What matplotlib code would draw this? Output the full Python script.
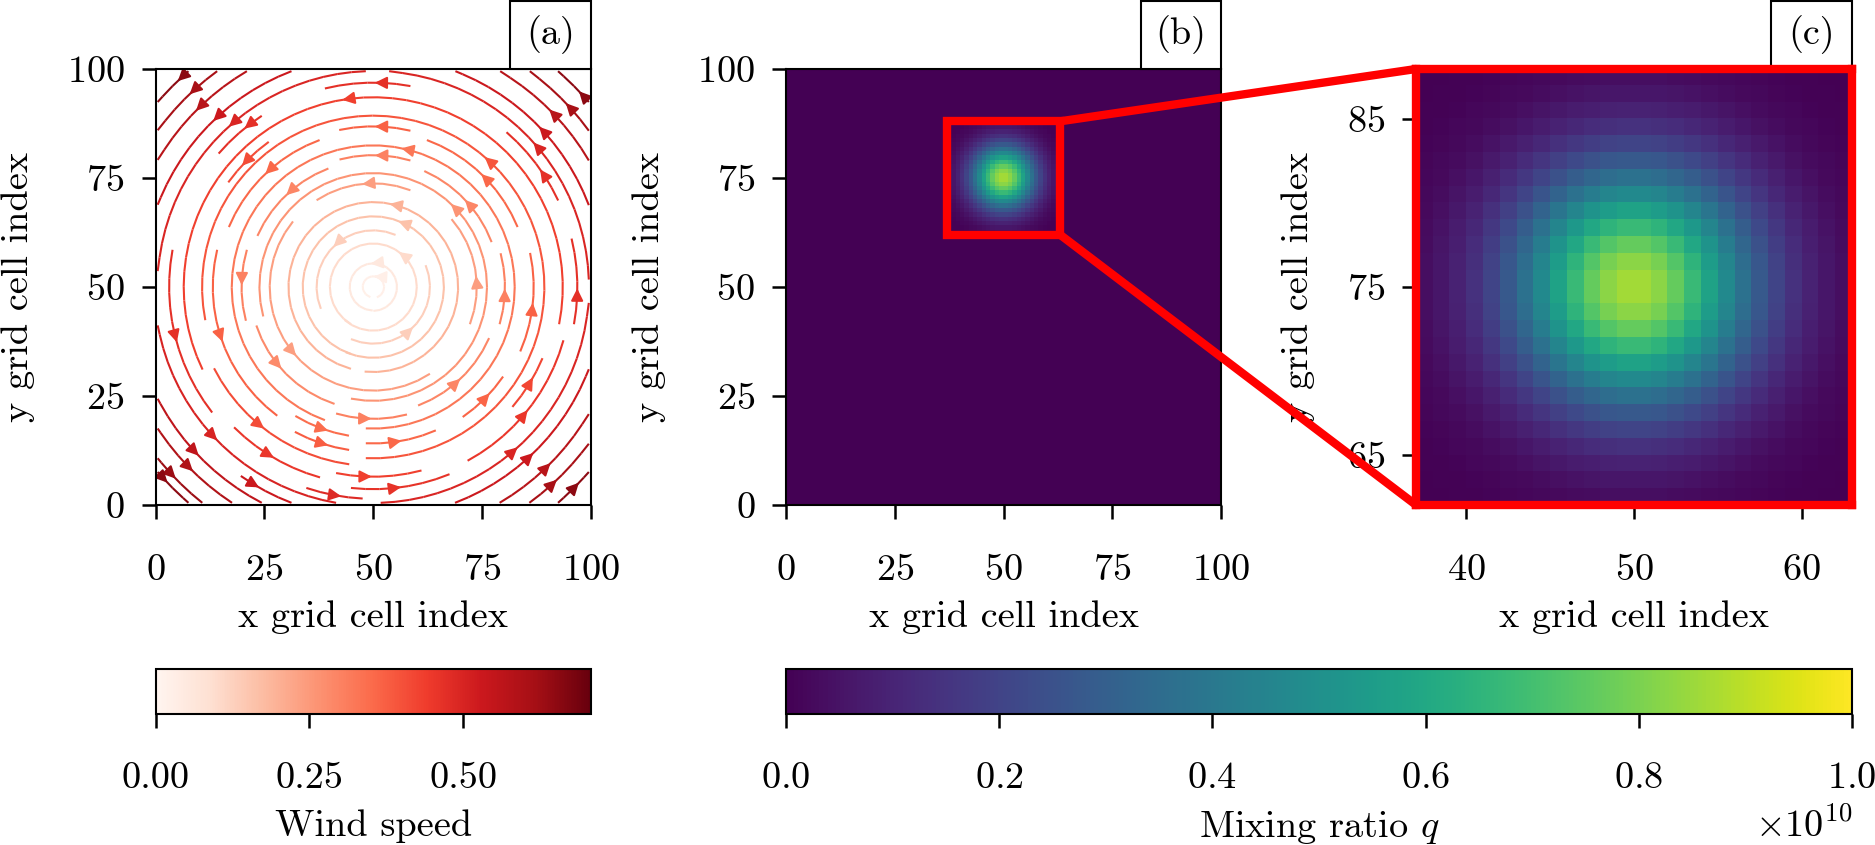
import matplotlib
matplotlib.use("Agg")
import matplotlib.pyplot as plt
from matplotlib.cm import ScalarMappable
from matplotlib.colors import Normalize
from matplotlib.patches import ConnectionPatch, Rectangle
from matplotlib.ticker import ScalarFormatter
import numpy as np

plt.rcParams['font.family'] = ['cmr10', 'DejaVu Sans']
plt.rcParams['mathtext.fontset'] = 'cm'
plt.rcParams['axes.formatter.use_mathtext'] = True
plt.rcParams['axes.unicode_minus'] = False
plt.rcParams['font.size'] = 9.2
plt.rcParams['axes.linewidth'] = 0.5

W, H = 1875, 845

# wind speed against distance from the vortex centre
radius_read = [0, 25, 50, 70.7]
speed_read = [0.0, 0.25, 0.50, 0.707]
speed_max = 0.707

# q in units of 1e8, lower left quarter of panel (c), cells x=37..49, y=62..74
q_quarter = [
    [0.2, 0.3, 0.4, 0.6, 0.9, 1.2, 1.6, 2.1, 2.6, 3.0, 3.4, 3.7, 3.8],
    [0.3, 0.4, 0.7, 1.0, 1.5, 2.0, 2.7, 3.4, 4.1, 4.8, 5.5, 5.9, 6.2],
    [0.4, 0.7, 1.1, 1.6, 2.3, 3.1, 4.1, 5.2, 6.4, 7.5, 8.4, 9.2, 9.5],
    [0.6, 1.0, 1.6, 2.3, 3.4, 4.6, 6.1, 7.8, 9.5, 11.2, 12.6, 13.6, 14.2],
    [0.9, 1.5, 2.3, 3.4, 4.9, 6.7, 8.8, 11.2, 13.7, 16.1, 18.1, 19.6, 20.4],
    [1.2, 2.0, 3.1, 4.6, 6.7, 9.2, 12.2, 15.4, 18.9, 22.1, 24.9, 27.0, 28.1],
    [1.6, 2.7, 4.1, 6.1, 8.8, 12.2, 16.1, 20.4, 24.9, 29.3, 33.0, 35.8, 37.2],
    [2.1, 3.4, 5.2, 7.8, 11.2, 15.4, 20.4, 25.9, 31.7, 37.2, 41.9, 45.4, 47.3],
    [2.6, 4.1, 6.4, 9.5, 13.7, 18.9, 24.9, 31.7, 38.7, 45.4, 51.2, 55.4, 57.7],
    [3.0, 4.8, 7.5, 11.2, 16.1, 22.1, 29.3, 37.2, 45.4, 53.3, 60.1, 65.1, 67.8],
    [3.4, 5.5, 8.4, 12.6, 18.1, 24.9, 33.0, 41.9, 51.2, 60.1, 67.7, 73.3, 76.3],
    [3.7, 5.9, 9.2, 13.6, 19.6, 27.0, 35.8, 45.4, 55.4, 65.1, 73.3, 79.5, 82.8],
    [3.8, 6.2, 9.5, 14.2, 20.4, 28.1, 37.2, 47.3, 57.7, 67.8, 76.3, 82.8, 86.1],
]
q_max = 1e10

ticks_big = [0, 25, 50, 75, 100]
ticks_zoom_x = [40, 50, 60]
ticks_zoom_y = [65, 75, 85]
ticks_speed = [0.0, 0.25, 0.50]
ticks_q = [0, 0.2e10, 0.4e10, 0.6e10, 0.8e10, 1.0e10]
zoom_x = (37, 63)
zoom_y = (62, 88)


def px_axes(left, right, top, bottom):
    return fig.add_axes([left / W, 1 - bottom / H, (right - left) / W, (bottom - top) / H])


def panel_tag(ax, label):
    ax.add_patch(Rectangle((0.815, 1.0), 0.185, 0.155, transform=ax.transAxes, fc='w',
                           ec='k', lw=0.5, clip_on=False, zorder=6))
    ax.text(0.907, 1.078, label, transform=ax.transAxes, ha='center', va='center', zorder=7)


fig = plt.figure(figsize=(W / 300, H / 300), dpi=300)
ax_a = px_axes(155.5, 591, 69, 505)
ax_b = px_axes(786, 1221, 69, 505)
ax_c = px_axes(1416, 1852, 69, 505)
cax_a = px_axes(155.5, 591, 669, 714)
cax_b = px_axes(786, 1852, 669, 714)

# full grid from the quarter that was read
quarter = np.array(q_quarter) * 1e8
lower = np.hstack([quarter, quarter[:, ::-1]])
block = np.vstack([lower, lower[::-1]])
q = np.zeros((100, 100))
q[zoom_y[0]:zoom_y[1], zoom_x[0]:zoom_x[1]] = block

# panel a, wind on the cell centres
x = np.arange(100) + 0.5
y = np.arange(100) + 0.5
xx, yy = np.meshgrid(x, y)
dist = np.hypot(xx - 50, yy - 50)
speed = np.interp(dist, radius_read, speed_read)
u = -(yy - 50) / dist * speed
v = (xx - 50) / dist * speed
ax_a.streamplot(x, y, u, v, color=speed, cmap='Reds', norm=Normalize(0, speed_max),
                density=1, linewidth=0.5, arrowsize=0.6)
ax_a.set_xlim(0, 100)
ax_a.set_ylim(0, 100)

# panels b and c
for ax in (ax_b, ax_c):
    ax.imshow(q, origin='lower', extent=(0, 100, 0, 100), cmap='viridis', vmin=0, vmax=q_max,
              interpolation='nearest', aspect='auto')

for ax in (ax_a, ax_b):
    ax.set_xticks(ticks_big)
    ax.set_yticks(ticks_big)

ax_c.set_xlim(*zoom_x)
ax_c.set_ylim(*zoom_y)
ax_c.set_xticks(ticks_zoom_x)
ax_c.set_yticks(ticks_zoom_y)
for spine in ax_c.spines.values():
    spine.set_edgecolor('r')
    spine.set_linewidth(2)
    spine.set_zorder(6)

for ax, label in zip((ax_a, ax_b, ax_c), ('(a)', '(b)', '(c)')):
    ax.tick_params(length=3.4, width=0.6)
    ax.tick_params(axis='x', pad=8.4)
    ax.tick_params(axis='y', pad=4)
    ax.set_xlabel('x grid cell index', labelpad=3.2)
    ax.set_ylabel('y grid cell index', labelpad=7.6)
    panel_tag(ax, label)

ax_b.add_patch(Rectangle((zoom_x[0], zoom_y[0]), zoom_x[1] - zoom_x[0], zoom_y[1] - zoom_y[0],
                         fc='none', ec='r', lw=2, zorder=5))
for y_edge in zoom_y:
    fig.add_artist(ConnectionPatch(xyA=(zoom_x[1], y_edge), coordsA=ax_b.transData,
                                   xyB=(zoom_x[0], y_edge), coordsB=ax_c.transData,
                                   color='r', lw=2, zorder=5))

# colourbars
cb_a = fig.colorbar(ScalarMappable(Normalize(0, speed_max), 'Reds'), cax=cax_a, orientation='horizontal')
cb_a.set_ticks(ticks_speed)
cb_a.set_ticklabels(['0.00', '0.25', '0.50'])
cb_a.set_label('Wind speed', labelpad=3.4)

cb_b = fig.colorbar(ScalarMappable(Normalize(0, q_max), 'viridis'), cax=cax_b, orientation='horizontal')
fmt = ScalarFormatter(useMathText=True)
fmt.set_powerlimits((0, 0))
cb_b.set_ticks(ticks_q)
cb_b.ax.xaxis.set_major_formatter(fmt)
cb_b.set_label(r'Mixing ratio $q$', labelpad=3.4)

for cb in (cb_a, cb_b):
    cb.ax.tick_params(length=3.4, width=0.6, pad=8)
    cb.outline.set_linewidth(0.5)

fig.savefig('out.png', dpi=300)
